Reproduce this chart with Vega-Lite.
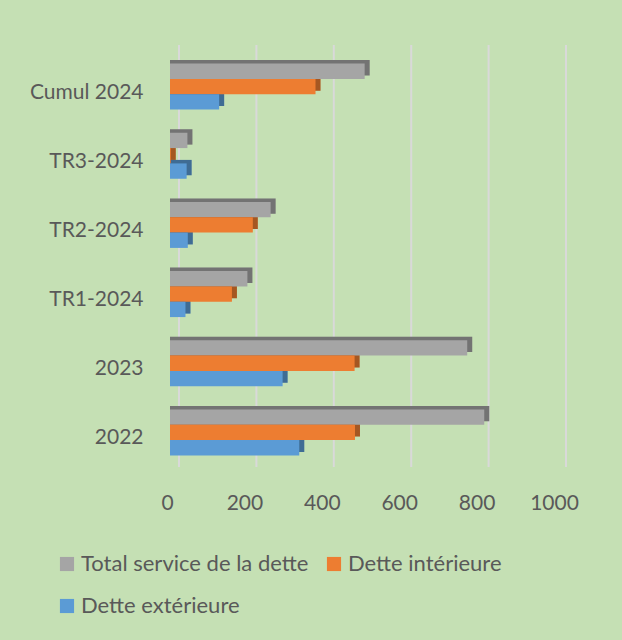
{
  "$schema": "https://vega.github.io/schema/vega-lite/v6.json",
  "width": 387,
  "height": 415,
  "autosize": {"type": "none"},
  "padding": {"left": 170, "top": 52, "right": 65, "bottom": 173},
  "background": "#C5E0B4",
  "config": {
    "view": {"stroke": null},
    "font": "Lato",
    "axisX": {"title": null, "domain": false, "ticks": false, "grid": false, "labelFontSize": 21, "labelColor": "#595959", "labelPadding": 25, "labelOffset": -3, "labelFont": "Lato", "labelFlush": false, "format": "d"},
    "axisY": {"title": null, "domain": false, "ticks": false, "grid": false, "labelFontSize": 21, "labelColor": "#595959", "labelPadding": 27, "labelOffset": 6, "labelFont": "Lato"},
    "legend": {"orient": "none", "direction": "horizontal", "legendX": -114, "legendY": 501, "columns": 2, "title": null, "symbolType": "square", "symbolSize": 200, "symbolStrokeWidth": 0, "labelFontSize": 22, "labelColor": "#595959", "labelFont": "Lato", "columnPadding": 14, "rowPadding": 20, "labelOffset": 3, "labelLimit": 400}
  },
  "datasets": {
    "bars": [
      {"cat": "Cumul 2024", "series": "Total service de la dette", "value": 503},
      {"cat": "Cumul 2024", "series": "Dette intérieure", "value": 376},
      {"cat": "Cumul 2024", "series": "Dette extérieure", "value": 127},
      {"cat": "TR3-2024", "series": "Total service de la dette", "value": 45},
      {"cat": "TR3-2024", "series": "Dette intérieure", "value": 2},
      {"cat": "TR3-2024", "series": "Dette extérieure", "value": 43},
      {"cat": "TR2-2024", "series": "Total service de la dette", "value": 260},
      {"cat": "TR2-2024", "series": "Dette intérieure", "value": 214},
      {"cat": "TR2-2024", "series": "Dette extérieure", "value": 46},
      {"cat": "TR1-2024", "series": "Total service de la dette", "value": 200},
      {"cat": "TR1-2024", "series": "Dette intérieure", "value": 160},
      {"cat": "TR1-2024", "series": "Dette extérieure", "value": 40},
      {"cat": "2023", "series": "Total service de la dette", "value": 768},
      {"cat": "2023", "series": "Dette intérieure", "value": 477},
      {"cat": "2023", "series": "Dette extérieure", "value": 291},
      {"cat": "2022", "series": "Total service de la dette", "value": 812},
      {"cat": "2022", "series": "Dette intérieure", "value": 478},
      {"cat": "2022", "series": "Dette extérieure", "value": 334}
    ],
    "grid": [{"v": 0}, {"v": 200}, {"v": 400}, {"v": 600}, {"v": 800}, {"v": 1000}]
  },
  "layer": [
    {
      "data": {"name": "grid"},
      "mark": {"type": "rule", "color": "#D9D9D9", "strokeWidth": 2, "xOffset": 9, "yOffset": -7},
      "encoding": {
        "x": {"field": "v", "type": "quantitative", "scale": {"domain": [0, 1000]}, "axis": {"values": [0, 200, 400, 600, 800, 1000]}}
      }
    },
    {
      "layer": [
        {
          "mark": {"type": "bar", "xOffset": 5},
          "encoding": {
            "color": {"field": "series", "type": "nominal", "sort": ["Total service de la dette", "Dette intérieure", "Dette extérieure"], "scale": {"domain": ["Total service de la dette", "Dette intérieure", "Dette extérieure"], "range": ["#A5A5A5", "#ED7D31", "#5B9BD5"]}}
          }
        },
        {
          "mark": {"type": "bar", "xOffset": 5, "color": "#000000", "opacity": 0.3},
          "encoding": {}
        }
      ],
      "data": {"name": "bars"},
      "encoding": {
        "y": {"field": "cat", "type": "nominal", "sort": ["Cumul 2024", "TR3-2024", "TR2-2024", "TR1-2024", "2023", "2022"], "scale": {"paddingInner": 0.335, "paddingOuter": 0.1675}},
        "yOffset": {"field": "series", "type": "nominal", "sort": ["Total service de la dette", "Dette intérieure", "Dette extérieure"], "scale": {"domain": ["Total service de la dette", "Dette intérieure", "Dette extérieure"], "paddingInner": 0, "paddingOuter": 0, "range": [-3.5, 42.5]}},
        "x": {"field": "value", "type": "quantitative"},
        "x2": {"datum": 0}
      }
    },
    {
      "data": {"name": "bars"},
      "mark": {"type": "bar"},
      "encoding": {
        "y": {"field": "cat", "type": "nominal", "sort": ["Cumul 2024", "TR3-2024", "TR2-2024", "TR1-2024", "2023", "2022"], "scale": {"paddingInner": 0.335, "paddingOuter": 0.1675}},
        "yOffset": {"field": "series", "type": "nominal", "sort": ["Total service de la dette", "Dette intérieure", "Dette extérieure"], "scale": {"domain": ["Total service de la dette", "Dette intérieure", "Dette extérieure"], "paddingInner": 0, "paddingOuter": 0}},
        "x": {"field": "value", "type": "quantitative", "scale": {"domain": [0, 1000]}},
        "x2": {"datum": 0},
        "color": {"field": "series", "type": "nominal", "sort": ["Total service de la dette", "Dette intérieure", "Dette extérieure"], "scale": {"domain": ["Total service de la dette", "Dette intérieure", "Dette extérieure"], "range": ["#A5A5A5", "#ED7D31", "#5B9BD5"]}, "legend": {"values": ["Total service de la dette", "Dette intérieure", "Dette extérieure"]}}
      }
    }
  ],
  "resolve": {"scale": {"yOffset": "independent"}}
}
